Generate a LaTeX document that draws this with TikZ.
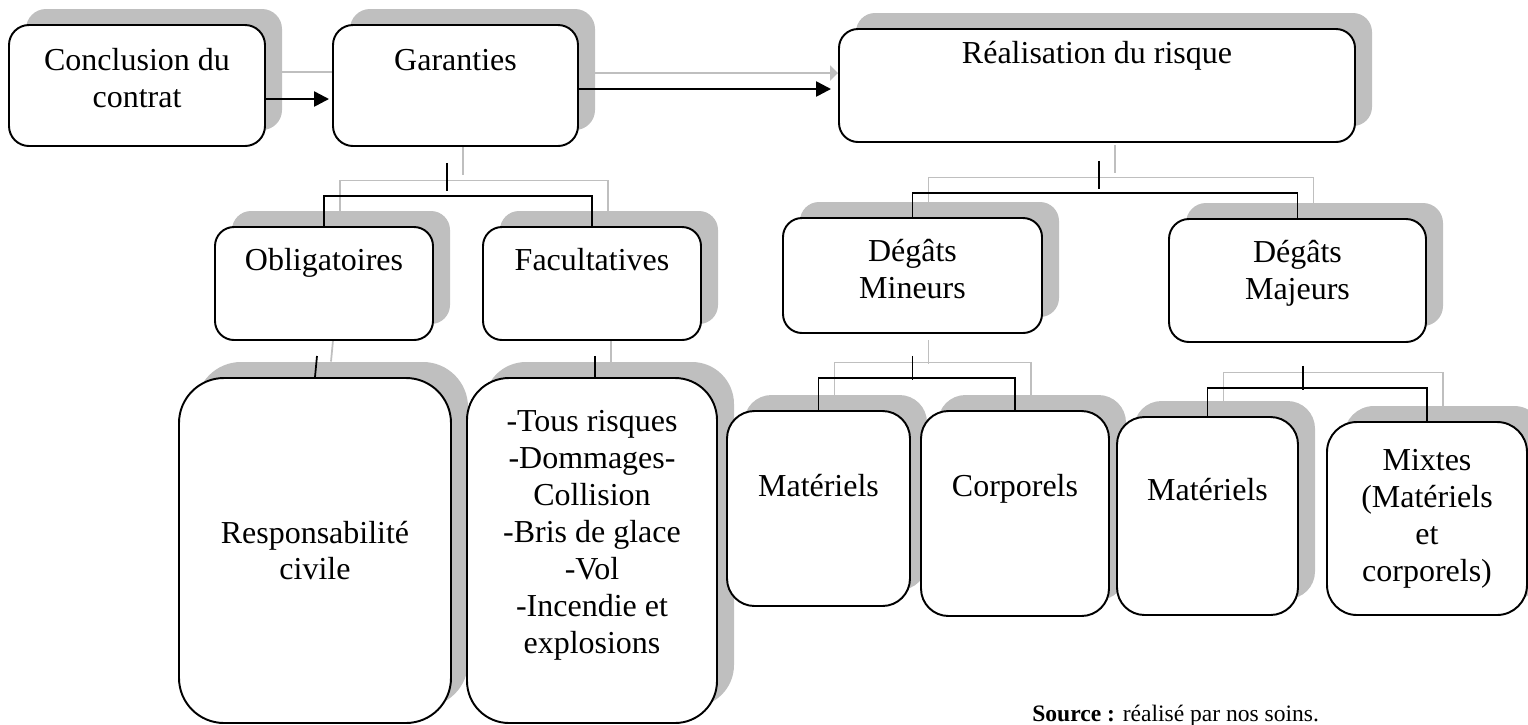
\documentclass[tikz,border=0pt]{standalone}
\usepackage{fontspec}
\setmainfont{Liberation Serif}
\usetikzlibrary{arrows.meta,shadows}
\definecolor{shadowgray}{RGB}{191,191,191}
\pgfdeclarelayer{background}
\pgfsetlayers{background,main}

\begin{document}
\begin{tikzpicture}[
		box/.style={rectangle, draw=black, line width=1.1pt, fill=white, rounded corners=#1, inner sep=0pt, align=center,
			font=\fontsize{18.2}{21}\selectfont,
			drop shadow={shadow xshift=0.34cm, shadow yshift=0.32cm, fill=shadowgray, opacity=1}},
		box/.default=0.4cm,
		raised/.style={text height=0.44cm, text depth=#1},
		link/.style={-{Triangle[length=0.3cm, width=0.3cm]}, line width=1.4pt},
		linkshade/.style={-{Triangle[length=0.16cm, width=0.3cm]}, line width=1.2pt, shadowgray},
		branch/.style={line width=1pt, black},
		branchshade/.style={line width=1pt, shadowgray, transform canvas={shift={(0.32cm,0.31cm)}}}
		]
		\useasboundingbox (0,0) rectangle (30.56,-14.48);
		
		% top row
		\node[box, minimum width=5.12cm, minimum height=2.42cm] (concl) at (2.74,-1.71) {Conclusion du\\contrat\\[-0.42cm]\mbox{}};
		\node[box, raised=1.06cm, minimum width=4.90cm, minimum height=2.42cm] (garant) at (9.11,-1.71) {Garanties};
		\node[box=0.38cm, raised=1.34cm, minimum width=10.32cm, minimum height=2.26cm] (realis) at (21.94,-1.71) {Réalisation du risque};
		
		% garanties
		\node[box=0.38cm, raised=0.98cm, minimum width=4.36cm, minimum height=2.26cm] (oblig) at (6.48,-5.67) {Obligatoires};
		\node[box=0.38cm, raised=0.98cm, minimum width=4.36cm, minimum height=2.26cm] (facult) at (11.84,-5.67) {Facultatives};
		\node[box=0.9cm, minimum width=5.44cm, minimum height=6.90cm] (respo) at (6.30,-11.01) {Responsabilité\\civile};
		\node[box=0.84cm, minimum width=5.00cm, minimum height=6.90cm] (garfac) at (11.84,-11.01) {-Tous risques\\-Dommages-\\Collision\\-Bris de glace\\-Vol\\-Incendie et\\explosions\\\mbox{}};
		
		% degats
		\node[box=0.38cm, minimum width=5.18cm, minimum height=2.30cm] (mineur) at (18.25,-5.51) {Dégâts\\Mineurs\\[-0.48cm]\mbox{}};
		\node[box, minimum width=5.14cm, minimum height=2.46cm] (majeur) at (25.95,-5.61) {Dégâts\\Majeurs\\[-0.3cm]\mbox{}};
		\node[box=0.55cm, raised=0.94cm, minimum width=3.66cm, minimum height=3.90cm] (matmin) at (16.37,-10.17) {Matériels};
		\node[box=0.55cm, raised=1.14cm, minimum width=3.76cm, minimum height=4.10cm] (corpmin) at (20.30,-10.27) {Corporels};
		\node[box=0.55cm, raised=1.08cm, minimum width=3.62cm, minimum height=3.96cm] (matmaj) at (24.15,-10.32) {Matériels};
		\node[box=0.6cm, minimum width=4.00cm, minimum height=3.86cm] (mixmaj) at (28.54,-10.37) {Mixtes\\(Matériels\\et\\corporels)};
		
		\node[anchor=base west, inner sep=0pt, font=\fontsize{13.4}{16}\selectfont] (src) at (20.64,-14.42) {\textbf{Source :} réalisé par nos soins.};
		
		% arrows
		\draw[link, shorten >=0.06cm] ([yshift=-0.27cm]concl.east) -- ([yshift=-0.27cm]garant.west);
		\draw[link, shorten >=0.14cm] ([yshift=-0.07cm]garant.east) -- ([yshift=-0.07cm]realis.west);
		
		% branches
		\draw[branch] ([xshift=-0.17cm, yshift=-0.32cm]garant.south) -- ++(0,-0.56);
		\draw[branch] (oblig.north) -- ++(0,0.6) -| (facult.north);
		\draw[branch] ([xshift=-0.14cm, yshift=-0.3cm]oblig.south) -- (respo.north);
		\draw[branch] ([xshift=0.06cm, yshift=-0.3cm]facult.south) -- ([xshift=0.06cm]garfac.north);
		\draw[branch] ([xshift=0.04cm, yshift=-0.36cm]realis.south) -- ++(0,-0.56);
		\draw[branch] (mineur.north) -- ++(0,0.48) -| (majeur.north);
		\draw[branch] ([yshift=-0.44cm]mineur.south) -- ++(0,-0.48);
		\draw[branch] (matmin.north) -- ++(0,0.64) -| (corpmin.north);
		\draw[branch] ([xshift=0.11cm, yshift=-0.46cm]majeur.south) -- ++(0,-0.48);
		\draw[branch] (matmaj.north) -- ++(0,0.56) -| (mixmaj.north);
		
		% grey shades behind
		\begin{pgfonlayer}{background}
			\draw[linkshade, shorten >=-0.26cm] ([yshift=0.27cm]concl.east) -- ([yshift=0.27cm]garant.west);
			\draw[linkshade] ([yshift=0.25cm]garant.east) -- ([yshift=0.25cm]realis.west);
			\draw[branchshade] ([xshift=-0.17cm, yshift=-0.32cm]garant.south) -- ++(0,-0.56);
			\draw[branchshade] (oblig.north) -- ++(0,0.6) -| (facult.north);
			\draw[branchshade] ([xshift=-0.14cm, yshift=-0.3cm]oblig.south) -- (respo.north);
			\draw[branchshade] ([xshift=0.06cm, yshift=-0.3cm]facult.south) -- ([xshift=0.06cm]garfac.north);
			\draw[branchshade] ([xshift=0.04cm, yshift=-0.36cm]realis.south) -- ++(0,-0.56);
			\draw[branchshade] (mineur.north) -- ++(0,0.48) -| (majeur.north);
			\draw[branchshade] ([yshift=-0.44cm]mineur.south) -- ++(0,-0.48);
			\draw[branchshade] (matmin.north) -- ++(0,0.64) -| (corpmin.north);
			\draw[branchshade] (matmaj.north) -- ++(0,0.56) -| (mixmaj.north);
		\end{pgfonlayer}
		
	\end{tikzpicture}
\end{document}
